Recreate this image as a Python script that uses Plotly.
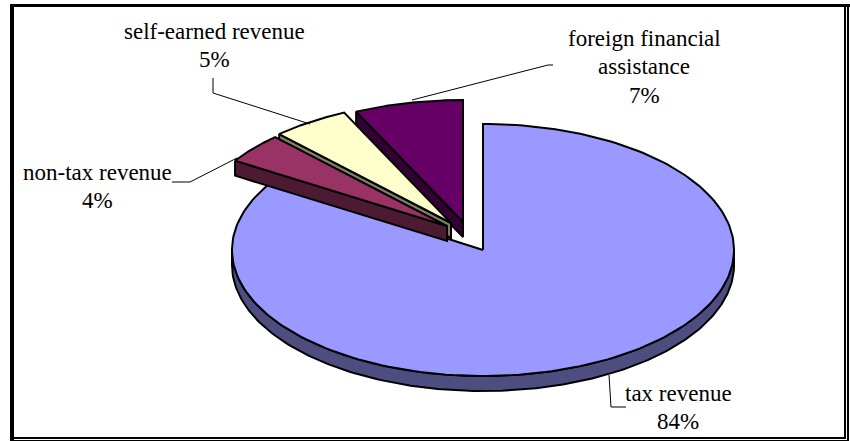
import numpy as np
import plotly.graph_objects as go

categories = ["tax revenue", "non-tax revenue", "self-earned revenue", "foreign financial<br>assistance"]
values = [84, 4, 5, 7]
top_colors = ["#9999ff", "#993366", "#ffffcc", "#660066"]
side_colors = ["#4d4d80", "#4d1a33", "#808066", "#330033"]

RX, DEPTH = 251, 15
radii_y = [126, 122, 122, 122]
apexes = [(483, 250), (447, 226), (451, 223), (463, 222)]
label_pos = [(678, 393), (97, 172), (214, 31), (644, 38)]
leaders = [
    ([609, 611, 626], [375, 407, 407]),
    ([172, 190, 237], [182, 182, 158]),
    ([213, 213, 310], [78, 93, 124]),
    ([553, 548, 412], [65, 65, 100]),
]

fracs = np.array(values) / sum(values)
edges = np.concatenate([[0], np.cumsum(fracs)]) * 2 * np.pi


def pt(i, a):
    c = apexes[i]
    return c[0] + RX * np.sin(a), c[1] - radii_y[i] * np.cos(a)


fig = go.Figure()


def poly(x, y, color):
    fig.add_trace(go.Scatter(x=list(x), y=list(y), mode="lines", fill="toself", fillcolor=color,
                             line=dict(color="black", width=2), hoverinfo="skip", showlegend=False))


def slice_(i):
    c = apexes[i]
    a = np.linspace(edges[i], edges[i + 1], 200)
    x, y = pt(i, a)
    if i == 0:
        s = np.linspace(np.pi / 2, 3 * np.pi / 2, 200)
        sx, sy = pt(i, s)
        poly(np.r_[sx, sx[::-1], sx[0]], np.r_[sy, sy[::-1] + DEPTH, sy[0]], side_colors[i])
    else:
        ex, ey = pt(i, edges[i])
        poly([ex, c[0], c[0], ex, ex], [ey, c[1], c[1] + DEPTH, ey + DEPTH, ey], side_colors[i])
    poly(np.r_[c[0], x, c[0]], np.r_[c[1], y, c[1]], top_colors[i])


slice_(0)
for i in (3, 2, 1):
    slice_(i)

for lx, ly in leaders:
    fig.add_trace(go.Scatter(x=lx, y=ly, mode="lines", line=dict(color="black", width=1),
                             hoverinfo="skip", showlegend=False))

line_h = 28.5
annotations = []
for (lx, ly), name, v in zip(label_pos, categories, values):
    for k, t in enumerate(name.split("<br>") + [f"{v}%"]):
        annotations.append(dict(x=lx, y=ly + k * line_h, text=t, showarrow=False, xref="x", yref="y",
                                xanchor="center", yanchor="middle",
                                font=dict(family="Liberation Serif", size=23, color="black")))


def rule(x0, y0, x1, y1, w):
    return dict(type="line", xref="x", yref="y", x0=x0, y0=y0, x1=x1, y1=y1,
                line=dict(color="black", width=w))


shapes = [
    rule(12, 4, 12, 441, 4),      # left band
    rule(10, 5.5, 850, 5.5, 3),   # top band
    rule(845, 7, 845, 439, 2),    # right inner
    rule(848, 7, 848, 441, 2),    # right outer
    rule(14, 438, 846, 438, 2),   # bottom inner
    rule(10, 441, 849, 441, 2),   # bottom outer
]

fig.update_layout(
    width=850, height=441, margin=dict(l=0, r=0, t=0, b=0),
    paper_bgcolor="white", plot_bgcolor="white", showlegend=False,
    xaxis=dict(range=[0, 850], visible=False, fixedrange=True),
    yaxis=dict(range=[441, 0], visible=False, fixedrange=True),
    annotations=annotations, shapes=shapes,
)
fig.write_html("out.html", config={"displayModeBar": False},
               post_script="document.body.style.margin='0';document.body.style.overflow='hidden';")
